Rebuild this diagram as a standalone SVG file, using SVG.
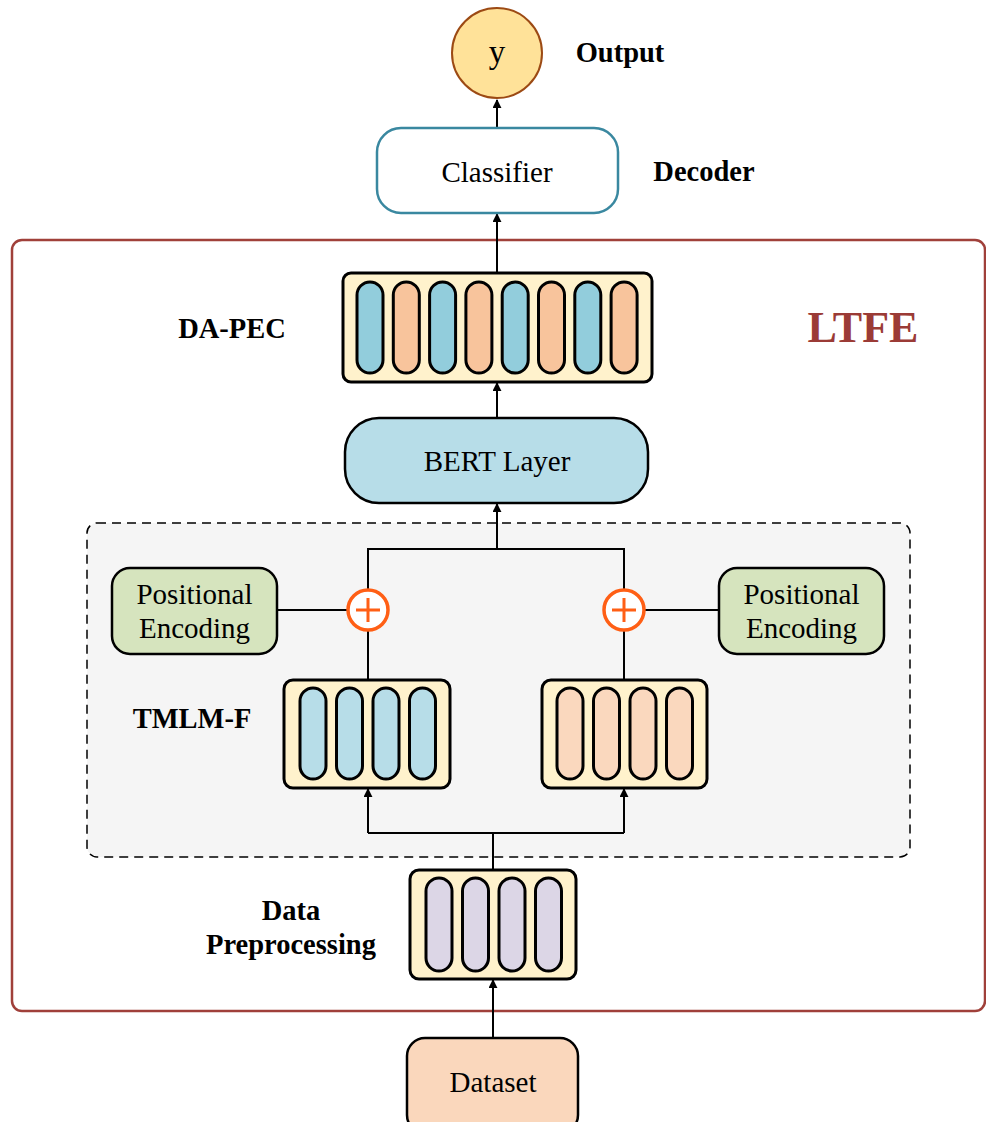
<svg xmlns="http://www.w3.org/2000/svg" width="986" height="1122" viewBox="0 0 986 1122">
<defs>
<marker id="arr" viewBox="0 0 10 10" refX="9" refY="5" markerWidth="9" markerHeight="9" markerUnits="userSpaceOnUse" orient="auto">
<path d="M0,0 L10,5 L0,10 Z" fill="#000"/>
</marker>
</defs>
<style>
.t{font-family:"Liberation Serif","Times New Roman",serif;fill:#000;text-anchor:middle}
.b{font-family:"Liberation Serif","Times New Roman",serif;font-weight:bold;fill:#000;text-anchor:middle}
.ln{fill:none;stroke:#000;stroke-width:2}
.hold{fill:#FFF2CC;stroke:#000;stroke-width:3}
.pill{stroke:#000;stroke-width:3}
.blue{fill:#92CDDC}
.orng{fill:#F8C49C}
.lblue{fill:#B7DDE8}
.peach{fill:#FAD8BE}
.lav{fill:#DCD6E6}
.pe{fill:#D6E4BE;stroke:#000;stroke-width:2.5}
.plus{fill:#fff;stroke:#FF5F15;stroke-width:3.5}
</style>
<rect width="986" height="1122" fill="#fff"/>
<g id="ltfe">
<rect x="12" y="240" width="973" height="771" rx="10" fill="#fff" stroke="#A0403A" stroke-width="2.5"/>
<text x="863" y="342" font-family="Liberation Serif,serif" font-weight="bold" font-size="44" fill="#9B3B36" text-anchor="middle">LTFE</text>
</g>
<g id="tmlm-region">
<rect x="87" y="523" width="823" height="334" rx="10" fill="#F5F5F5" stroke="#000" stroke-width="1.5" stroke-dasharray="9,6"/>
</g>
<g id="connectors">
<line class="ln" x1="497" y1="128" x2="497" y2="100" marker-end="url(#arr)"/>
<line class="ln" x1="497" y1="273" x2="497" y2="214" marker-end="url(#arr)"/>
<line class="ln" x1="497" y1="418" x2="497" y2="383" marker-end="url(#arr)"/>
<polyline class="ln" points="368,589 368,549 624,549 624,589"/>
<line class="ln" x1="497" y1="549" x2="497" y2="504" marker-end="url(#arr)"/>
<line class="ln" x1="277" y1="610" x2="347" y2="610"/>
<line class="ln" x1="645" y1="610" x2="719" y2="610"/>
<line class="ln" x1="368" y1="631" x2="368" y2="680"/>
<line class="ln" x1="624" y1="631" x2="624" y2="680"/>
<polyline class="ln" points="368,833 624,833"/>
<line class="ln" x1="368" y1="833" x2="368" y2="789" marker-end="url(#arr)"/>
<line class="ln" x1="624" y1="833" x2="624" y2="789" marker-end="url(#arr)"/>
<line class="ln" x1="493" y1="870" x2="493" y2="833"/>
<line class="ln" x1="493" y1="1038" x2="493" y2="980" marker-end="url(#arr)"/>
</g>
<g id="output">
<circle cx="497" cy="53" r="45" fill="#FFE299" stroke="#9C4A14" stroke-width="2"/>
<text class="t" x="497" y="63" font-size="33">y</text>
<text class="b" x="620" y="62" font-size="28.5">Output</text>
</g>
<g id="classifier">
<rect x="377" y="128" width="241" height="85" rx="24" fill="#fff" stroke="#3A88A0" stroke-width="2.5"/>
<text class="t" x="497" y="182" font-size="29">Classifier</text>
<text class="b" x="704" y="181" font-size="28.5">Decoder</text>
</g>
<g id="da-pec">
<rect class="hold" x="343" y="273" width="309" height="109" rx="8"/>
<rect class="pill blue" x="357" y="282" width="26" height="91" rx="13"/>
<rect class="pill orng" x="393.3" y="282" width="26" height="91" rx="13"/>
<rect class="pill blue" x="429.6" y="282" width="26" height="91" rx="13"/>
<rect class="pill orng" x="465.9" y="282" width="26" height="91" rx="13"/>
<rect class="pill blue" x="502.2" y="282" width="26" height="91" rx="13"/>
<rect class="pill orng" x="538.5" y="282" width="26" height="91" rx="13"/>
<rect class="pill blue" x="574.8" y="282" width="26" height="91" rx="13"/>
<rect class="pill orng" x="611.1" y="282" width="26" height="91" rx="13"/>
<text class="b" x="232" y="338" font-size="28.5">DA-PEC</text>
</g>
<g id="bert">
<rect x="345" y="418" width="303" height="85" rx="34" fill="#B7DDE8" stroke="#000" stroke-width="2.5"/>
<text class="t" x="497" y="471" font-size="29">BERT Layer</text>
</g>
<g id="pe-left">
<rect class="pe" x="112" y="568" width="165" height="86" rx="18"/>
<text class="t" x="194.5" y="604" font-size="29">Positional</text>
<text class="t" x="194.5" y="638" font-size="29">Encoding</text>
</g>
<g id="pe-right">
<rect class="pe" x="719" y="568" width="165" height="86" rx="18"/>
<text class="t" x="801.5" y="604" font-size="29">Positional</text>
<text class="t" x="801.5" y="638" font-size="29">Encoding</text>
</g>
<g id="add-left">
<circle class="plus" cx="368" cy="610" r="20"/>
<path d="M356,610 H380 M368,598 V622" stroke="#FF5F15" stroke-width="3" fill="none"/>
</g>
<g id="add-right">
<circle class="plus" cx="624" cy="610" r="20"/>
<path d="M612,610 H636 M624,598 V622" stroke="#FF5F15" stroke-width="3" fill="none"/>
</g>
<g id="tmlm-left">
<rect class="hold" x="284" y="680" width="166" height="108" rx="9"/>
<rect class="pill lblue" x="300" y="688" width="26" height="91" rx="13"/>
<rect class="pill lblue" x="336.5" y="688" width="26" height="91" rx="13"/>
<rect class="pill lblue" x="373" y="688" width="26" height="91" rx="13"/>
<rect class="pill lblue" x="409.5" y="688" width="26" height="91" rx="13"/>
<text class="b" x="192" y="728" font-size="28.5">TMLM-F</text>
</g>
<g id="tmlm-right">
<rect class="hold" x="542" y="680" width="165" height="108" rx="9"/>
<rect class="pill peach" x="557" y="688" width="26" height="91" rx="13"/>
<rect class="pill peach" x="593.5" y="688" width="26" height="91" rx="13"/>
<rect class="pill peach" x="630" y="688" width="26" height="91" rx="13"/>
<rect class="pill peach" x="666.5" y="688" width="26" height="91" rx="13"/>
</g>
<g id="data-preprocessing">
<rect class="hold" x="410" y="870" width="166" height="109" rx="9"/>
<rect class="pill lav" x="426" y="878" width="26" height="93" rx="13"/>
<rect class="pill lav" x="462.5" y="878" width="26" height="93" rx="13"/>
<rect class="pill lav" x="499" y="878" width="26" height="93" rx="13"/>
<rect class="pill lav" x="535.5" y="878" width="26" height="93" rx="13"/>
<text class="b" x="291" y="920" font-size="28.5">Data</text>
<text class="b" x="291" y="954" font-size="28.5">Preprocessing</text>
</g>
<g id="dataset">
<rect x="407" y="1038" width="171" height="95" rx="18" fill="#FAD7BC" stroke="#000" stroke-width="2.5"/>
<text class="t" x="493" y="1092" font-size="29">Dataset</text>
</g>
</svg>
